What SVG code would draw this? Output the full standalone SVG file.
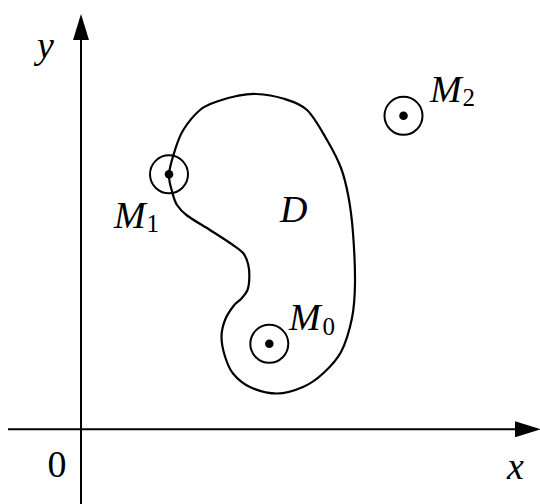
<svg xmlns="http://www.w3.org/2000/svg" width="540" height="504" viewBox="0 0 540 504">
<defs>
<style>
.ax{stroke:#000;stroke-width:2;fill:none}
.cv{stroke:#000;stroke-width:2.2;fill:none}
.ring{stroke:#000;stroke-width:2;fill:none}
.dot{fill:#000}
.lbl{font-family:"Liberation Serif","Times New Roman",serif;font-style:italic;font-size:38px;fill:#000}
.sub{font-family:"Liberation Serif","Times New Roman",serif;font-size:25px;fill:#000}
.num{font-family:"Liberation Serif","Times New Roman",serif;font-size:38px;fill:#000}
</style>
<marker id="arr" viewBox="0 0 26 16" refX="0" refY="8" markerWidth="26" markerHeight="16" markerUnits="userSpaceOnUse" orient="auto">
<path d="M0,0 L26,8 L0,16 Z" fill="#000"/>
</marker>
</defs>
<rect width="540" height="504" fill="#fff"/>
<g id="connectors">
<line class="ax" x1="81" y1="504" x2="81" y2="40" marker-end="url(#arr)"/>
<line class="ax" x1="8" y1="429.3" x2="515" y2="429.3" marker-end="url(#arr)"/>
</g>
<g id="region-D">
<path class="cv" d="M256,94 C263.72,94.42 274.5,95.83 283,98.5 C291.5,101.17 299.67,103.08 307,110 C314.33,116.92 321.33,130.33 327,140 C332.67,149.67 337.42,158.5 341,168 C344.58,177.5 346.5,186.17 348.5,197 C350.5,207.83 351.92,218.67 353,233 C354.08,247.33 355.17,268.83 355,283 C354.83,297.17 354.330,306.5 352,318 C349.67,329.5 345.83,342.75 341,352 C336.17,361.25 329.33,367.67 323,373.5 C316.67,379.33 310.67,383.67 303,387 C295.33,390.33 285.83,393.5 277,393.5 C268.17,393.5 257.33,390.33 250,387 C242.67,383.67 237.17,378.58 233,373.5 C228.83,368.42 226.92,362.58 225,356.5 C223.08,350.42 221.5,343.08 221.5,337 C221.5,330.92 223,325.17 225,320 C227,314.83 230.75,309.58 233.5,306 C236.25,302.42 239.17,301.17 241.5,298.5 C243.83,295.83 246.2,293.42 247.5,290 C248.8,286.58 249.17,282.17 249.3,278 C249.43,273.83 249.3,269.12 248.3,265 C247.3,260.88 246.35,256.97 243.3,253.3 C240.25,249.63 235.55,246.88 230,243 C224.45,239.12 217.17,234.58 210,230 C202.83,225.42 192.5,219.67 187,215.5 C181.5,211.33 179.42,208.75 177,205 C174.58,201.25 173.83,198.12 172.5,193 C171.17,187.88 168.58,181.47 169,174.3 C169.42,167.13 172.62,157.38 175,150 C177.38,142.62 179.13,136.67 183.3,130 C187.47,123.33 194.38,114.75 200,110 C205.62,105.25 210.88,103.83 217,101.5 C223.12,99.17 230.2,97.25 236.7,96 C243.2,94.75 248.28,93.58 256,94 Z"/>
<text class="lbl" x="280" y="222">D</text>
</g>
<g id="M1">
<circle class="ring" cx="169" cy="174.3" r="19"/>
<circle class="dot" cx="169" cy="174.3" r="4.3"/>
<text class="lbl" x="114" y="228">M</text>
<text class="sub" x="146.5" y="232">1</text>
</g>
<g id="M2">
<circle class="ring" cx="403.5" cy="115.8" r="19"/>
<circle class="dot" cx="403.5" cy="115.8" r="4.3"/>
<text class="lbl" x="430" y="102">M</text>
<text class="sub" x="462.5" y="106">2</text>
</g>
<g id="M0">
<circle class="ring" cx="269.3" cy="343.8" r="19"/>
<circle class="dot" cx="269.3" cy="343.8" r="4.3"/>
<text class="lbl" x="289" y="330">M</text>
<text class="sub" x="322.5" y="334.5">0</text>
</g>
<g id="labels">
<text class="lbl" x="37" y="57.5">y</text>
<text class="num" x="47.5" y="476.5">0</text>
<text class="lbl" x="507" y="478.5">x</text>
</g>
</svg>
